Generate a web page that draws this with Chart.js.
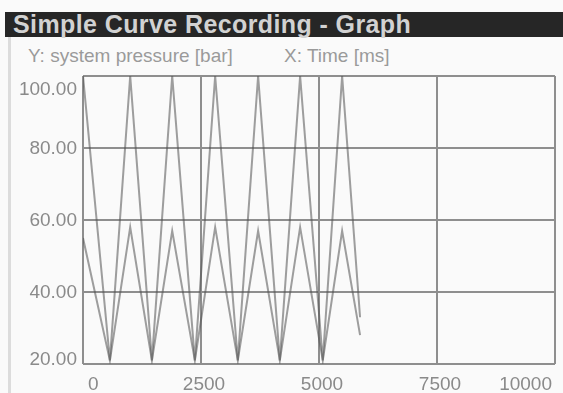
<!DOCTYPE html>
<html>
<head>
<meta charset="utf-8">
<script src="https://cdn.jsdelivr.net/npm/chart.js@4.4.1/dist/chart.umd.min.js"></script>
<style>
  body { margin: 0; background: #fafafa; font-family: "Liberation Sans", Arial, sans-serif; }
  #wrap { position: relative; width: 563px; height: 393px; overflow: hidden; }
  #titlebar { position: absolute; left: 5px; top: 12px; width: 558px; height: 25px; background: #262626;
    color: #d2d2d2; font-weight: bold; font-size: 25px; line-height: 25px; padding-left: 8px; letter-spacing: 0.4px;
    box-sizing: border-box; white-space: nowrap; }
  #edge { position: absolute; left: 8px; top: 37px; width: 3px; height: 356px; background: #dcdcdc; }
  .axname { position: absolute; top: 45px; font-size: 19px; line-height: 22px; color: #9a9a9a; white-space: nowrap; }
  canvas { position: absolute; left: 0; top: 0; }
</style>
</head>
<body>
<div id="wrap">
  <div id="titlebar">Simple Curve Recording - Graph</div>
  <div id="edge"></div>
  <div class="axname" style="left:28px">Y: system pressure [bar]</div>
  <div class="axname" style="left:284px">X: Time [ms]</div>
  <canvas id="myChart" width="563" height="393"></canvas>
</div>
<script>
const timeMs = [0, 570, 1000, 1460, 1890, 2370, 2800, 3280, 3710, 4170, 4600, 5080, 5490, 5870];
const pressureHigh = [100, 21, 100, 21, 100, 21, 100, 21, 100, 21, 100, 21, 100, 33];
const pressureLow = [55, 21, 58, 21, 57, 21, 58, 21, 57, 21, 58, 21, 57, 28];
// axis ticks
const yTicks = [20, 40, 60, 80, 100];
const xTicks = [0, 2500, 5000, 7500, 10000];

function toPoints(values) {
	return timeMs.map(function(t, i) { return { x: t, y: values[i] }; });
}

// draws the tick texts the way the old recorder does (end labels kept inside)
const tickText = {
	id: 'tickText',
	afterDraw: function(chart) {
		const ctx = chart.ctx, xs = chart.scales.x, ys = chart.scales.y, area = chart.chartArea;
		ctx.save();
		ctx.font = '19px "Liberation Sans", Arial, sans-serif';
		ctx.fillStyle = '#8a8a8a';
		ctx.textAlign = 'right';
		ctx.textBaseline = 'middle';
		yTicks.forEach(function(v) {
			let py = ys.getPixelForValue(v) + 1;
			py = Math.min(Math.max(py, area.top + 14), area.bottom - 4);
			ctx.fillText(v.toFixed(2), 77, py);
		});
		xTicks.forEach(function(v, i) {
			const px = xs.getPixelForValue(v);
			if (i === 0) { ctx.textAlign = 'left'; ctx.fillText(String(v), px + 5, 385); }
			else if (i === xTicks.length - 1) { ctx.textAlign = 'right'; ctx.fillText(String(v), px - 3, 385); }
			else { ctx.textAlign = 'center'; ctx.fillText(String(v), px + 3, 385); }
		});
		ctx.restore();
	}
};

var ctx = document.getElementById("myChart").getContext('2d');
var myChart = new Chart(ctx, {
	type: 'line',
	data: {
		datasets: [{
			data: toPoints(pressureHigh),
			borderColor: 'rgba(80, 80, 80, 0.55)',
			borderWidth: 2,
			pointRadius: 0,
			tension: 0
		}, {
			data: toPoints(pressureLow),
			borderColor: 'rgba(80, 80, 80, 0.55)',
			borderWidth: 2,
			pointRadius: 0,
			tension: 0
		}]
	},
	options: {
		responsive: false,
		animation: false,
		devicePixelRatio: 1,
		layout: { padding: { top: 76, right: 8, left: 0, bottom: 0 } },
		plugins: { legend: { display: false }, tooltip: { enabled: false } },
		scales: {
			x: {
				type: 'linear',
				min: 0,
				max: 10000,
				afterBuildTicks: function(scale) { scale.ticks = xTicks.map(function(v) { return { value: v }; }); },
				afterFit: function(scale) { scale.height = 29; },
				ticks: { display: false },
				grid: { color: '#8e8e8e', lineWidth: 2, drawTicks: false },
				border: { display: false }
			},
			y: {
				min: 20,
				max: 100,
				afterBuildTicks: function(scale) { scale.ticks = yTicks.map(function(v) { return { value: v }; }); },
				afterFit: function(scale) { scale.width = 83; },
				ticks: { display: false },
				grid: { color: '#8e8e8e', lineWidth: 2, drawTicks: false },
				border: { display: false }
			}
		}
	},
	plugins: [tickText]
});
</script>
</body>
</html>
